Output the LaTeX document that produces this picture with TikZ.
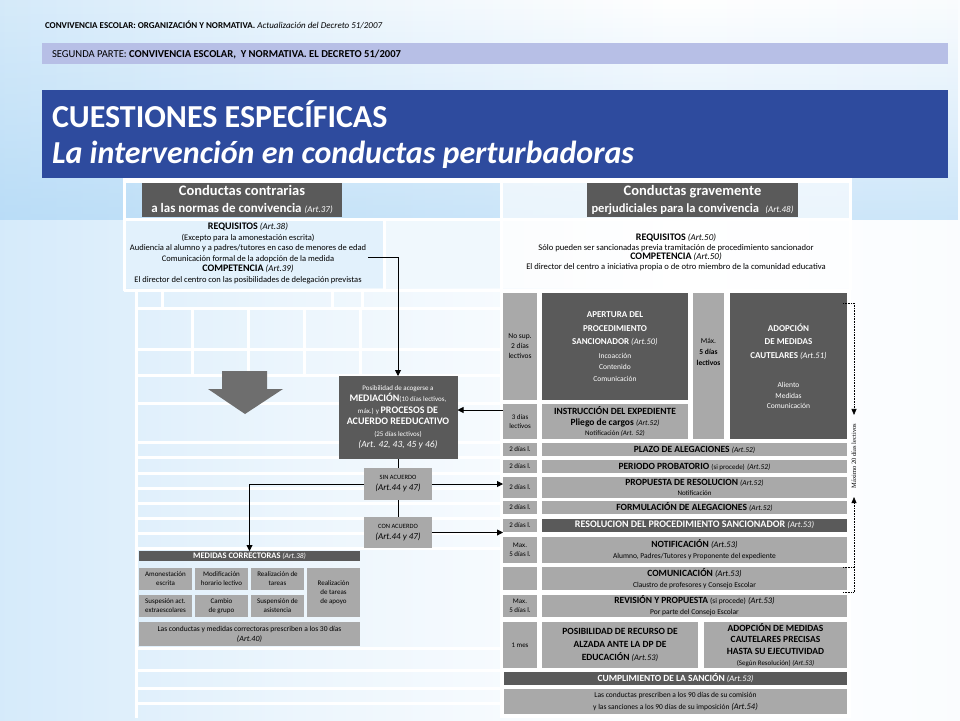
\documentclass[tikz,border=0pt]{standalone}
\usepackage{fontspec}
\setmainfont{Carlito}
\newfontfamily\notefont{Liberation Serif}
\usetikzlibrary{arrows.meta,positioning,fadings}

\definecolor{skyblue}{HTML}{9ECFF4}
\definecolor{paleblue}{HTML}{E2F1FC}
\definecolor{titleblue}{HTML}{2E4B9E}
\definecolor{barlav}{HTML}{B7BFE6}
\definecolor{darkcell}{HTML}{5A5A5A}
\definecolor{lightcell}{HTML}{A9A9A9}
\definecolor{arrowgray}{HTML}{6E6E6E}

\newcommand{\fsz}[2]{\fontsize{#1}{#2}\selectfont}
\newcommand{\artref}[1]{{\mdseries\itshape(#1)}}
\newcommand{\plain}[1]{{\mdseries\fsz{7.5}{11}#1}}

\pgfdeclarehorizontalshading{slideband}{100bp}{color(0bp)=(skyblue); color(4bp)=(skyblue); color(14bp)=(skyblue!60!white); color(40bp)=(skyblue!20!white); color(60bp)=(white); color(82bp)=(white!92!skyblue); color(92bp)=(skyblue!80!white); color(100bp)=(skyblue)}

\begin{document}
\begin{tikzpicture}[x=1pt, y=-1pt,
  every node/.style={inner sep=0pt, outer sep=0pt},
  darkbox/.style={fill=darkcell, text=white, align=center},
  lightbox/.style={fill=lightcell, text=black, align=center},
  daycell/.style={lightbox, minimum width=34, font=\fsz{7}{9.5}},
  daytext/.style={anchor=north, align=center, font=\fsz{7.5}{11}},
  rowbox/.style={lightbox, minimum width=305},
  frameline/.style={white, line width=3pt},
  link/.style={black, line width=0.9pt},
  linkarrow/.style={link, -{Triangle[length=6pt, width=6pt]}},
  dotline/.style={black, densely dotted, line width=0.6pt}]

% slide background
\useasboundingbox (0,0) rectangle (960,720);
\shade[shading=slideband] (0,0) rectangle (960,720);
\fill[skyblue, path fading=north, fill opacity=0.5] (0,0) rectangle (960,220);

% header lines
\node[anchor=base west, font=\fsz{9}{11}\bfseries] (head) at (45,28) {CONVIVENCIA ESCOLAR: ORGANIZACIÓN Y NORMATIVA. {\mdseries\itshape Actualización del Decreto 51/2007}};
\fill[barlav] (42,43) rectangle (948,64);
\node[anchor=west, font=\fsz{10.6}{12}] (part) at (52,54) {SEGUNDA PARTE: \textbf{CONVIVENCIA ESCOLAR,\ \ Y NORMATIVA. EL DECRETO 51/2007}};

% title
\fill[titleblue] (42,90) rectangle (948,178);
\node[anchor=base west, text=white, font=\fsz{32}{36}\bfseries] (title1) at (52,127) {CUESTIONES ESPECÍFICAS};
\node[anchor=base west, text=white, font=\fsz{32}{36}\bfseries\itshape] (title2) at (52,163) {La intervención en conductas perturbadoras};

% table frame
\fill[white] (123,178) rectangle (852,183);
\fill[paleblue] (125,221) rectangle (383,288);
\fill[paleblue!50!white] (386,221) rectangle (500,288);
\fill[white, opacity=0.6] (502,183) rectangle (851,288);
\fill[white] (502,290) rectangle (851,718);
\draw[frameline] (124,178) -- (124,291);
\draw[frameline] (501,178) -- (501,718);
\draw[frameline] (850,178) -- (850,290);
\draw[frameline] (124,219) -- (850,219);
\draw[frameline] (384,219) -- (384,290);
\draw[frameline] (124,290) -- (850,290);
\draw[frameline] (136,290) -- (136,718);
\foreach \yy in {308,349,375,403,442,457,473,488,503,518,533,548,648,670,688,703}
  \draw[frameline] (136,\yy) -- (500,\yy);
\foreach \xx in {162,332,362}
  \draw[frameline] (\xx,290) -- (\xx,308);
\foreach \xx in {192,248,304,360}
  \draw[frameline] (\xx,308) -- (\xx,375);

% left side
\node[darkbox, minimum width=200, minimum height=34, font=\fsz{14.5}{17}\bfseries] (contr) at (242,200) {Conductas contrarias\\{\fsz{13}{17}a las normas de convivencia {\fsz{9}{17}\artref{Art.37}}}};
\node[align=center, font=\fsz{8.5}{10.5}] (reqleft) at (248,253.5) {{\fsz{10}{10.5}\bfseries REQUISITOS} {\fsz{9}{10.5}\artref{Art.38}}\\(Excepto para la amonestación escrita)\\Audiencia al alumno y a padres/tutores en caso de menores de edad\\Comunicación formal de la adopción de la medida\\{\fsz{10}{10.5}\bfseries COMPETENCIA} {\fsz{9}{10.5}\artref{Art.39}}\\El director del centro con las posibilidades de delegación previstas};
\coordinate (reqtap) at (368,257);

\fill[arrowgray] (222,371) -- (267,371) -- (267,389) -- (283,389) -- (245,414) -- (208,389) -- (222,389) -- cycle;

\node[darkbox, minimum width=119, minimum height=83, font=\fsz{7}{11.5}] (medbox) at (398,417.5) {Posibilidad de acogerse a\\{\fsz{10}{11.5}\bfseries MEDIACIÓN}(10 días lectivos,\\máx.) y {\fsz{10}{11.5}\bfseries PROCESOS DE}\\{\fsz{10}{11.5}\bfseries ACUERDO REEDUCATIVO}\\(25 días lectivos)\\{\fsz{9.5}{11.5}\itshape(Art. 42, 43, 45 y 46)}};
\node[lightbox, minimum width=68, minimum height=32, font=\fsz{6.5}{11}] (sinbox) at (398,484) {SIN ACUERDO\\{\fsz{9}{11}\itshape(Art.44 y 47)}};
\node[lightbox, minimum width=68, minimum height=31, font=\fsz{6.5}{11}] (conbox) at (398,532.5) {CON ACUERDO\\{\fsz{9}{11}\itshape(Art.44 y 47)}};

\node[darkbox, minimum width=221, minimum height=10, font=\fsz{8.5}{10}\bfseries] (medhead) at (249.5,556) {MEDIDAS CORRECTORAS {\fsz{7.5}{10}\artref{Art.38}}};
\node[lightbox, minimum width=53, minimum height=22, font=\fsz{7}{9}] (amon) at (165.5,579) {Amonestación\\escrita};
\node[lightbox, minimum width=53, minimum height=22, font=\fsz{7}{9}] (modif) at (221.5,579) {Modificación\\horario lectivo};
\node[lightbox, minimum width=53, minimum height=22, font=\fsz{7}{9}] (tareas) at (277.5,579) {Realización de\\tareas};
\node[lightbox, minimum width=53, minimum height=49, font=\fsz{7}{9}] (apoyo) at (333.5,592.5) {Realización\\de tareas\\de apoyo};
\node[lightbox, minimum width=53, minimum height=22, font=\fsz{7}{9}] (susp) at (165.5,606) {Suspesión act.\\extraescolares};
\node[lightbox, minimum width=53, minimum height=22, font=\fsz{7}{9}] (grupo) at (221.5,606) {Cambio\\de grupo};
\node[lightbox, minimum width=53, minimum height=22, font=\fsz{7}{9}] (asist) at (277.5,606) {Suspensión de\\asistencia};
\node[lightbox, minimum width=221, minimum height=24, font=\fsz{7.5}{10}] (presc30) at (249.5,634) {Las conductas y medidas correctoras prescriben a los 30 días\\{\fsz{8}{10}\artref{Art.40}}};

% right side
\node[darkbox, minimum width=211, minimum height=34, font=\fsz{14.5}{17}\bfseries] (grave) at (692.5,200) {Conductas gravemente\\{\fsz{12.5}{17}perjudiciales para la convivencia\enspace{\fsz{9}{17}\artref{Art.48}}}};
\node[align=center, font=\fsz{8.6}{9.7}] (reqright) at (676,252.5) {{\fsz{10}{9.7}\bfseries REQUISITOS} {\fsz{9}{9.7}\artref{Art.50}}\\Sólo pueden ser sancionadas previa tramitación de procedimiento sancionador\\{\fsz{10}{9.7}\bfseries COMPETENCIA} {\fsz{9}{9.7}\artref{Art.50}}\\El director del centro a iniciativa propia o de otro miembro de la comunidad educativa};

\node[daycell, minimum height=107, font=\fsz{7.5}{10}] (nosup) at (520,346.5) {No sup.\\2 días\\lectivos};
\node[darkbox, minimum width=146, minimum height=107, font=\fsz{9}{13.5}\bfseries] (apert) at (615,346.5) {APERTURA DEL\\PROCEDIMIENTO\\SANCIONADOR {\fsz{8.5}{13.5}\artref{Art.50}}\\[0pt]\plain{Incoacción}\\[-2pt]\plain{Contenido}\\[-2pt]\plain{Comunicación}};
\node[lightbox, minimum width=31, minimum height=146, label={[daytext, yshift=-45pt]north:{Máx.\\\textbf{5 días}\\\textbf{lectivos}}}] (max5) at (708.5,366) {};
\node[darkbox, minimum width=117, minimum height=146, font=\fsz{9}{13.5}\bfseries] (cautel) at (788.5,366) {ADOPCIÓN\\DE MEDIDAS\\CAUTELARES {\fsz{8.5}{13.5}\artref{Art.51}}\\[16pt]\plain{Aliento}\\[-3pt]\plain{Medidas}\\[-3pt]\plain{Comunicación}};
\node[daycell, minimum height=35] (tres) at (520,421.5) {3 días\\lectivos};
\node[lightbox, minimum width=146, minimum height=35, font=\fsz{9.5}{10.5}\bfseries] (instr) at (615,421.5) {INSTRUCCIÓN DEL EXPEDIENTE\\Pliego de cargos {\fsz{7.5}{10.5}\artref{Art.52}}\\{\mdseries\fsz{7}{10.5}Notificación \artref{Art. 52}}};
\coordinate (tresin) at ([yshift=11.5pt]tres.west);

\node[daycell, minimum height=13] (d-plazo) at (520,449.5) {2 días l.};
\node[rowbox, minimum height=13, font=\fsz{9.5}{11}\bfseries] (plazo) at (694.5,449.5) {PLAZO DE ALEGACIONES {\fsz{7.5}{11}\artref{Art.52}}};
\node[daycell, minimum height=13] (d-probat) at (520,466.5) {2 días l.};
\node[rowbox, minimum height=13, font=\fsz{9.5}{11}\bfseries] (probat) at (694.5,466.5) {PERIODO PROBATORIO {\mdseries\fsz{7}{11}(si procede)} {\fsz{7.5}{11}\artref{Art.52}}};
\node[daycell, minimum height=21] (d-prop) at (520,487.5) {2 días l.};
\node[rowbox, minimum height=21, font=\fsz{9.5}{10}\bfseries] (prop) at (694.5,487.5) {PROPUESTA DE RESOLUCION {\fsz{7.5}{10}\artref{Art.52}}\\{\mdseries\fsz{7}{10}Notificación}};
\node[daycell, minimum height=13] (d-formul) at (520,507.5) {2 días l.};
\node[rowbox, minimum height=13, font=\fsz{9.5}{11}\bfseries] (formul) at (694.5,507.5) {FORMULACIÓN DE ALEGACIONES {\fsz{7.5}{11}\artref{Art.52}}};
\node[daycell, minimum height=13] (d-resol) at (520,525) {2 días l.};
\node[darkbox, minimum width=305, minimum height=13, font=\fsz{10}{11}\bfseries] (resol) at (694.5,525) {RESOLUCION DEL PROCEDIMIENTO SANCIONADOR {\fsz{8.5}{11}\artref{Art.53}}};

\node[daycell, minimum height=26] (d-notif) at (520,550) {Max.\\5 días l.};
\node[rowbox, minimum height=26, font=\fsz{9.5}{11}\bfseries] (notif) at (694.5,550) {NOTIFICACIÓN {\fsz{8.5}{11}\artref{Art.53}}\\{\mdseries\fsz{7.5}{11}Alumno, Padres/Tutores y Proponente del expediente}};
\node[daycell, minimum height=23] (d-comun) at (520,578.5) {};
\node[rowbox, minimum height=23, font=\fsz{9.5}{11}\bfseries] (comun) at (694.5,578.5) {COMUNICACIÓN {\fsz{8.5}{11}\artref{Art.53}}\\{\mdseries\fsz{7.5}{11}Claustro de profesores y Consejo Escolar}};
\node[daycell, minimum height=22] (d-revis) at (520,606) {Max.\\5 días l.};
\node[rowbox, minimum height=22, font=\fsz{9.5}{11}\bfseries] (revis) at (694.5,606) {REVISIÓN Y PROPUESTA {\mdseries\fsz{7.5}{11}(si procede)} {\fsz{8.5}{11}\artref{Art.53}}\\{\mdseries\fsz{7.5}{11}Por parte del Consejo Escolar}};
\node[daycell, minimum height=46] (d-mes) at (520,645) {1 mes};
\node[lightbox, minimum width=156, minimum height=46, font=\fsz{9.5}{13}\bfseries] (alzada) at (620,645) {POSIBILIDAD DE RECURSO DE\\ALZADA ANTE LA DP DE\\EDUCACIÓN {\fsz{8.5}{13}\artref{Art.53}}};
\node[lightbox, minimum width=143, minimum height=46, font=\fsz{9.5}{11.5}\bfseries] (precis) at (775.5,645) {ADOPCIÓN DE MEDIDAS\\CAUTELARES PRECISAS\\HASTA SU EJECUTIVIDAD\\{\mdseries\fsz{7}{11.5}(Según Resolución) \artref{Art.53}}};
\node[darkbox, minimum width=343, minimum height=13, font=\fsz{9.5}{11}\bfseries] (cumpl) at (675.5,678.5) {CUMPLIMIENTO DE LA SANCIÓN {\fsz{8.5}{11}\artref{Art.53}}};
\node[lightbox, minimum width=343, minimum height=25, font=\fsz{7.5}{12}] (presc90) at (675.5,701.5) {Las conductas prescriben a los 90 días de su comisión\\y las sanciones a los 90 días de su imposición {\fsz{8.5}{12}\artref{Art.54}}};

% time bracket
\coordinate (brtop) at (843,303);
\coordinate (brmid) at (843,567);
\coordinate (brbot) at (843,592);
\node[rotate=90, font=\notefont\fsz{6.5}{8}] (maxnote) at (854,456) {Máximo 20 días lectivos};
\draw[dotline, -{Triangle[length=6pt, width=5pt]}] (brtop) -| ([yshift=9pt]maxnote.east);
\draw[dotline, -{Triangle[length=6pt, width=5pt]}] (brbot) -| ([yshift=-9pt]maxnote.west);
\draw[dotline] (brmid) -- (brmid -| maxnote.west);

% connectors
\draw[linkarrow] (reqtap) -| (medbox.north);
\draw[linkarrow] (tresin) -- (tresin -| medbox.east);
\draw[link] (medbox.south) -- (sinbox.north);
\draw[link] (sinbox.south) -- (conbox.north);
\draw[linkarrow] (sinbox.east) -- (sinbox.east -| d-prop.west);
\draw[linkarrow] (conbox.east) -- (conbox.east -| d-resol.west);
\draw[linkarrow] (sinbox.west) -| (medhead.north);
\end{tikzpicture}
\end{document}
